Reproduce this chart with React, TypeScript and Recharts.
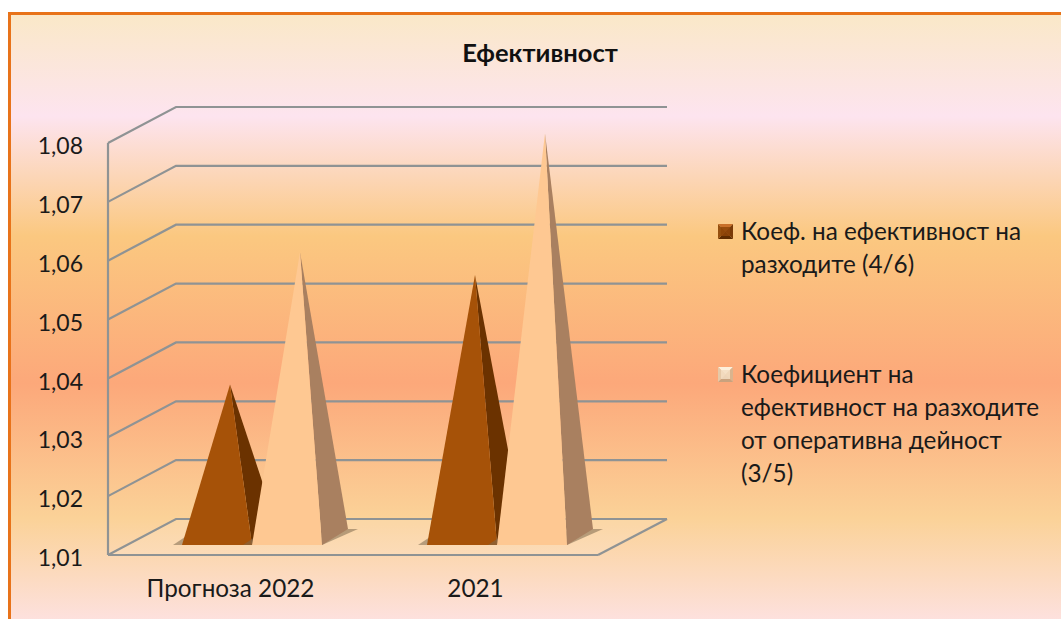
import { BarChart, Bar, XAxis, YAxis, CartesianGrid, Legend } from 'recharts';

const categories = ['Прогноза 2022', '2021'];
const costEfficiency = [1.0359, 1.0545];
const operatingEfficiency = [1.0584, 1.0786];
const yTicks = [1.01, 1.02, 1.03, 1.04, 1.05, 1.06, 1.07, 1.08];
const seriesNames = [
  'Коеф. на ефективност на разходите (4/6)',
  'Коефициент на ефективност на разходите от оперативна дейност (3/5)',
];
const legendLines = [
  ['Коеф. на ефективност на', 'разходите (4/6)'],
  ['Коефициент на', 'ефективност на разходите', 'от оперативна дейност', '(3/5)'],
];

const chartData = categories.map((name, i) => ({
  name,
  cost: costEfficiency[i],
  operating: operatingEfficiency[i],
}));

const FONT = 'Lato, "Noto Sans", sans-serif';
const GRID = '#8f9394';
// 3d look of the Excel chart: back wall sits this far behind the front plane
const WALL_DX = 68;
const WALL_DY = 36;

function WallLine(props: any) {
  const { x1, x2, y1 } = props;
  const isFloor = Math.abs(y1 - 555) < 1;
  const backRight = x2 + WALL_DX + 1;
  return (
    <g>
      {isFloor && (
        <path
          d={`M${x1},${y1} L${x1 + WALL_DX},${y1 - WALL_DY} L${backRight},${y1 - WALL_DY} L${x2},${y1} Z`}
          fill="rgba(255,236,214,0.2)"
        />
      )}
      <path
        d={`M${x1},${y1} L${x1 + WALL_DX},${y1 - WALL_DY} L${backRight},${y1 - WALL_DY}`}
        fill="none"
        stroke={GRID}
        strokeWidth={2.2}
      />
      {isFloor && (
        <path d={`M${x2},${y1} L${backRight},${y1 - WALL_DY}`} fill="none" stroke={GRID} strokeWidth={2.2} />
      )}
    </g>
  );
}

function pyramid(front: string, side: string) {
  return function PyramidShape(props: any) {
    const { x, y, width, height } = props;
    const left = x + 21;
    const right = left + width;
    const baseY = y + height - 10;
    const apexX = left + width / 2 + 13;
    const apexY = y - 18;
    return (
      <g>
        <path
          d={`M${left - 9},${baseY} L${left + 3},${baseY - 8} L${right + 26},${baseY - 16} L${right + 36},${baseY - 16} L${right},${baseY} Z`}
          fill="#7d6a4e"
          fillOpacity={0.55}
        />
        <path d={`M${right},${baseY} L${right + 26},${baseY - 16} L${apexX},${apexY} Z`} fill={side} />
        <path d={`M${left},${baseY} L${right},${baseY} L${apexX},${apexY} Z`} fill={front} />
      </g>
    );
  };
}

function Marker({ light }: { light: boolean }) {
  const c = light
    ? ['#fdf0dc', '#d9b48e', '#c9a27e', '#e6c9a8', '#f3ddc2']
    : ['#c9702a', '#7a3a08', '#5f2c00', '#96500f', '#8f4508'];
  return (
    <svg width={15} height={15} style={{ position: 'absolute', left: 0, top: 10 }}>
      <path d="M0,0 L15,0 L7.5,7.5 Z" fill={c[0]} />
      <path d="M15,0 L15,15 L7.5,7.5 Z" fill={c[1]} />
      <path d="M0,15 L15,15 L7.5,7.5 Z" fill={c[2]} />
      <path d="M0,0 L0,15 L7.5,7.5 Z" fill={c[3]} />
      <rect x={3} y={3} width={9} height={9} fill={c[4]} fillOpacity={0.85} />
    </svg>
  );
}

function LegendBlock() {
  return (
    <div style={{ fontFamily: FONT, fontSize: 24.3, lineHeight: '33px', color: '#1a1a1a', whiteSpace: 'nowrap' }}>
      {legendLines.map((lines, i) => (
        <div key={i} style={{ position: 'relative', paddingLeft: 23, marginBottom: i === 0 ? 77 : 0 }}>
          <Marker light={i === 1} />
          {lines.map((line) => (
            <div key={line}>{line}</div>
          ))}
        </div>
      ))}
    </div>
  );
}

export default function App() {
  return (
    <div style={{ position: 'absolute', left: 0, top: 0, width: 1061, height: 619, overflow: 'hidden', background: '#fff' }}>
      <div
        style={{
          position: 'absolute',
          left: 8,
          top: 12,
          width: 1070,
          height: 620,
          boxSizing: 'border-box',
          border: '3px solid #e8731a',
          background:
            'linear-gradient(180deg, #fae8c8 0%, #fde4ef 16.5%, #fbc880 36%, #fca87a 60%, #fbd298 82%, #fde2e4 100%)',
        }}
      />
      <div
        style={{
          position: 'absolute',
          left: 340,
          width: 400,
          top: 38,
          textAlign: 'center',
          fontFamily: FONT,
          fontWeight: 700,
          fontSize: 25.5,
          lineHeight: '28px',
          color: '#111',
        }}
      >
        Ефективност
      </div>
      <div style={{ position: 'absolute', left: 0, top: 0 }}>
        <BarChart
          width={1061}
          height={619}
          data={chartData}
          margin={{ top: 143, right: 463, bottom: 0, left: 38 }}
          barSize={70}
          barGap={0}
        >
          <CartesianGrid vertical={false} horizontal={(p: any) => <WallLine key={p.index} {...p} />} />
          <XAxis
            dataKey="name"
            axisLine={{ stroke: GRID, strokeWidth: 2.2 }}
            tickLine={false}
            tickSize={0}
            tickMargin={25}
            height={64}
            tick={{ fontFamily: FONT, fontSize: 24.3, fill: '#1a1a1a' }}
          />
          <YAxis
            width={70}
            domain={[1.01, 1.08]}
            ticks={yTicks}
            interval={0}
            axisLine={{ stroke: GRID, strokeWidth: 2.2 }}
            tickLine={false}
            tickSize={0}
            tickMargin={25}
            tickFormatter={(v: number) => v.toFixed(2).replace('.', ',')}
            tick={{ fontFamily: FONT, fontSize: 23, fill: '#1a1a1a', dy: 3 }}
          />
          <Legend
            layout="vertical"
            verticalAlign="middle"
            align="center"
            content={<LegendBlock />}
            wrapperStyle={{ position: 'absolute', left: 718, top: 214, width: 340 }}
          />
          <Bar
            dataKey="cost"
            name={seriesNames[0]}
            fill="#a65208"
            isAnimationActive={false}
            shape={pyramid('#a65208', '#6b3200')}
          />
          <Bar
            dataKey="operating"
            name={seriesNames[1]}
            fill="#fec892"
            isAnimationActive={false}
            shape={pyramid('#fec892', '#a98060')}
          />
        </BarChart>
      </div>
    </div>
  );
}
